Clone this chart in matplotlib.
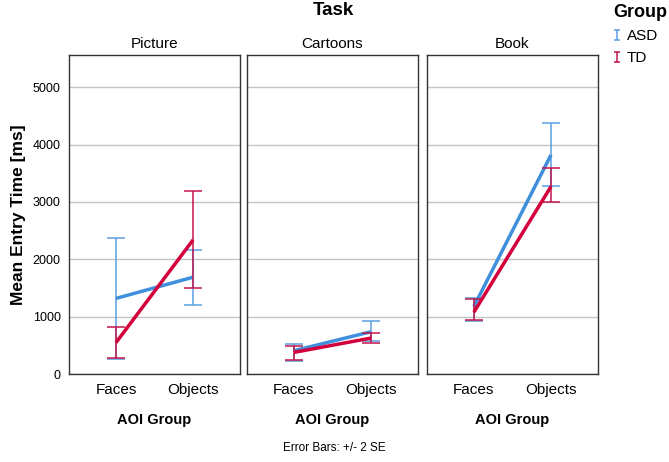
import matplotlib
matplotlib.use("Agg")
import matplotlib.pyplot as plt
from matplotlib.lines import Line2D
from matplotlib.path import Path
import numpy as np

plt.rcParams['font.family'] = ['Liberation Sans', 'DejaVu Sans']

# data (ms)
tasks = ['Picture', 'Cartoons', 'Book']
aoi = ['Faces', 'Objects']
groups = ['ASD', 'TD']

asd_mean = [[1320, 1690], [410, 740], [1180, 3820]]
asd_lo = [[265, 1210], [235, 570], [930, 3270]]
asd_hi = [[2370, 2160], [530, 920], [1330, 4370]]

td_mean = [[550, 2340], [380, 630], [1080, 3270]]
td_lo = [[275, 1510], [250, 540], [940, 3000]]
td_hi = [[830, 3190], [500, 710], [1310, 3600]]

colors = {'ASD': '#3f8fdc', 'TD': '#d3003c'}
err_colors = {'ASD': '#5b9ee0', 'TD': '#c2164a'}

fig = plt.figure(figsize=(6.69, 4.62), dpi=100)

lefts = [0.103, 0.369, 0.638]
width = 0.256
bottom = 0.19
height = 0.691

x = np.arange(len(aoi))
for i, task in enumerate(tasks):
    ax = fig.add_axes([lefts[i], bottom, width, height])
    for g, m, lo, hi in [('ASD', asd_mean, asd_lo, asd_hi),
                         ('TD', td_mean, td_lo, td_hi)]:
        mean = np.array(m[i])
        err = [mean - np.array(lo[i]), np.array(hi[i]) - mean]
        ax.errorbar(x, mean, yerr=err, fmt='none', ecolor=err_colors[g],
                    elinewidth=1.1, capsize=6.5, capthick=1.1)
        ax.plot(x, mean, color=colors[g], lw=2.5, solid_capstyle='butt')

    ax.set_xlim(-0.61, 1.61)
    ax.set_ylim(0, 5560)
    ax.set_yticks([0, 1000, 2000, 3000, 4000, 5000])
    ax.set_xticks(x)
    ax.set_xticklabels(aoi, fontsize=11)
    ax.yaxis.grid(True, color='#c4c4c4', lw=1)
    ax.set_axisbelow(True)
    ax.tick_params(axis='x', length=0, pad=6)
    ax.tick_params(axis='y', length=0, pad=6, labelsize=9)
    if i > 0:
        ax.tick_params(axis='y', labelleft=False)
    for s in ax.spines.values():
        s.set_color('#333333')
        s.set_linewidth(1)
    ax.set_title(task, fontsize=11, pad=5)
    ax.set_xlabel('AOI Group', fontsize=10.5, fontweight='bold', labelpad=12)

fig.text(0.498, 0.978, 'Task', fontsize=13.5, fontweight='bold',
         ha='center', va='center')
fig.text(0.027, 0.535, 'Mean Entry Time [ms]', fontsize=12.5, fontweight='bold',
         rotation=90, ha='center', va='center')
fig.text(0.5, 0.03, 'Error Bars: +/- 2 SE', fontsize=8.5,
         ha='center', va='center')

# "I" shaped legend symbol, like an error bar
i_marker = Path([(-0.5, 1), (0.5, 1), (0, 1), (0, -1), (-0.5, -1), (0.5, -1)],
                [Path.MOVETO, Path.LINETO, Path.MOVETO, Path.LINETO,
                 Path.MOVETO, Path.LINETO])
handles = [Line2D([], [], ls='none', marker=i_marker, markersize=7.5,
                  markeredgewidth=1.1, markerfacecolor='none',
                  markeredgecolor=err_colors[g]) for g in groups]

leg = fig.legend(handles, groups, loc='upper left', bbox_to_anchor=(0.903, 1.012),
                 frameon=False, fontsize=11, title='Group',
                 title_fontproperties={'weight': 'bold', 'size': 13},
                 handlelength=0.5, handletextpad=0.4, labelspacing=0.55,
                 alignment='left', borderaxespad=0.2)

fig.savefig('out.png', dpi=100)
